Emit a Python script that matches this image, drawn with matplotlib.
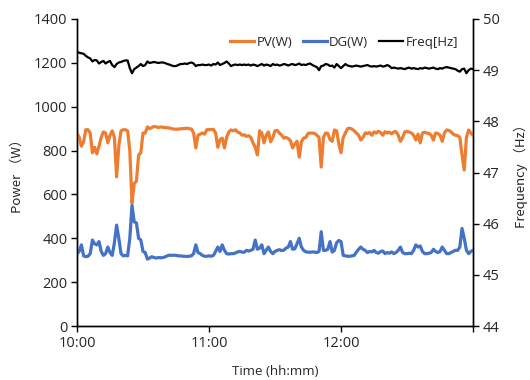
import matplotlib
matplotlib.use("Agg")
import matplotlib.pyplot as plt

# Minutes after 10:00, one sample per minute
minutes = list(range(181))

pv_w = [
    880, 860, 820, 840, 895, 895, 880, 790, 815, 785,
    820, 860, 885, 880, 835, 870, 890, 860, 680, 820,
    890, 895, 895, 890, 800, 560, 650, 660, 780, 790,
    880, 880, 908, 900, 905, 910, 908, 905, 908, 906,
    905, 904, 903, 900, 898, 897, 898, 899, 900, 901,
    902, 900, 898, 880, 812, 870, 875, 880, 875, 895,
    896, 895, 897, 880, 815, 850, 857, 812, 860, 885,
    894, 890, 895, 885, 880, 870, 872, 865, 868, 860,
    835, 815, 780, 890, 880, 835, 870, 885, 840, 860,
    890, 892, 880, 870, 857, 860, 855, 845, 812, 830,
    842, 770, 840, 857, 860, 878, 880, 880, 878, 870,
    860, 725, 860, 880, 878, 850, 842, 894, 890, 830,
    790, 860, 880, 900, 902, 898, 890, 880, 870, 848,
    860, 880, 878, 882, 870, 885, 880, 888, 882, 870,
    886, 880, 884, 876, 885, 886, 870, 842, 860, 885,
    888, 884, 880, 870, 848, 875, 835, 880, 884, 880,
    878, 870, 848, 880, 878, 870, 842, 880, 894, 892,
    885, 875, 870, 868, 860, 780, 711, 860, 894, 880,
    870,
]

dg_w = [
    330, 340, 370, 320, 316, 318, 330, 392, 375, 370,
    385, 340, 322, 330, 360, 335, 322, 380, 460, 400,
    330, 320, 322, 320, 400, 550, 475, 470, 400, 392,
    340, 335, 305, 310, 316, 312, 310, 312, 311, 312,
    315, 320, 323, 322, 323, 322, 320, 320, 318, 318,
    317, 318, 320, 330, 370, 335, 330, 322, 318, 318,
    320, 318, 322, 340, 360, 340, 370, 345, 330, 328,
    330, 330, 333, 338, 340, 337, 336, 345, 342, 345,
    350, 392, 350, 355, 370, 330, 345, 360, 340, 330,
    340, 345, 348, 344, 346, 355, 360, 385, 350, 352,
    375, 400, 360, 345, 338, 337, 336, 338, 337, 335,
    340, 430, 345, 345, 350, 385, 337, 345, 380, 390,
    385, 322, 320, 318, 318, 320, 322, 337, 350, 360,
    350, 345, 335, 340, 338, 345, 335, 332, 340, 342,
    330, 335, 332, 338, 330, 335, 345, 360, 335, 330,
    330, 332, 330, 345, 370, 360, 365, 340, 330, 330,
    332, 335, 350, 340, 335, 340, 360, 345, 330, 330,
    335, 340, 345, 345, 360, 445, 400, 345, 330, 340,
    345,
]

freq_hz = [
    49.36, 49.34, 49.33, 49.32, 49.28, 49.25, 49.23, 49.17, 49.20, 49.19,
    49.13, 49.16, 49.18, 49.13, 49.16, 49.18, 49.10, 49.06, 49.12, 49.15,
    49.16, 49.18, 49.19, 49.19, 49.04, 48.94, 49.02, 49.05, 49.08, 49.12,
    49.08, 49.10, 49.17, 49.14, 49.15, 49.16, 49.15, 49.14, 49.15, 49.15,
    49.14, 49.12, 49.11, 49.09, 49.08, 49.08, 49.10, 49.12, 49.12, 49.13,
    49.12, 49.14, 49.15, 49.13, 49.08, 49.10, 49.10, 49.11, 49.10, 49.10,
    49.11, 49.09, 49.12, 49.11, 49.15, 49.10, 49.12, 49.14, 49.17, 49.13,
    49.08, 49.10, 49.11, 49.10, 49.11, 49.10, 49.11, 49.10, 49.11, 49.09,
    49.11, 49.10, 49.08, 49.10, 49.12, 49.09, 49.11, 49.10, 49.08, 49.12,
    49.10, 49.11, 49.09, 49.10, 49.12, 49.11, 49.09, 49.11, 49.12, 49.10,
    49.11, 49.13, 49.10, 49.11, 49.10, 49.12, 49.13, 49.10, 49.08, 49.06,
    49.00, 49.08, 49.09, 49.12, 49.11, 49.08, 49.09, 49.05, 49.12, 49.08,
    49.04, 49.08, 49.12, 49.09, 49.08, 49.07, 49.08, 49.09, 49.08, 49.07,
    49.08, 49.09, 49.10, 49.08, 49.07, 49.08, 49.07, 49.08, 49.09, 49.07,
    49.08, 49.10, 49.08, 49.04, 49.05, 49.04, 49.03, 49.04, 49.03, 49.02,
    49.04, 49.05, 49.03, 49.04, 49.03, 49.02, 49.04, 49.03, 49.05, 49.04,
    49.03, 49.04, 49.05, 49.03, 49.02, 49.04, 49.03, 49.05, 49.06, 49.05,
    49.04, 49.03, 49.02, 48.99, 48.97, 49.02, 49.03, 48.94, 49.00, 49.03,
    49.02,
]

time_ticks = [0, 60, 120, 180]
time_labels = ["10:00", "11:00", "12:00", ""]
power_ticks = [0, 200, 400, 600, 800, 1000, 1200, 1400]
freq_ticks = [44, 45, 46, 47, 48, 49, 50]

PV_COLOR = "#ED7D31"
DG_COLOR = "#4472C4"
TEXT_COLOR = "#262626"

plt.rcParams["font.family"] = ["Open Sans", "DejaVu Sans"]

fig = plt.figure(figsize=(5.3, 3.8), dpi=100)
ax = fig.add_axes([0.1453, 0.1421, 0.7472, 0.8079])
ax2 = ax.twinx()

l_pv, = ax.plot(minutes, pv_w, color=PV_COLOR, lw=2.3, label="PV(W)",
                solid_joinstyle="round", zorder=3)
l_dg, = ax.plot(minutes, dg_w, color=DG_COLOR, lw=2.3, label="DG(W)",
                solid_joinstyle="round", zorder=3)
l_f, = ax2.plot(minutes, freq_hz, color="black", lw=1.6, label="Freq[Hz]",
                solid_joinstyle="round")

ax.set_xlim(0, 180)
ax.set_ylim(0, 1400)
ax2.set_ylim(44, 50)

ax.set_xticks(time_ticks)
ax.set_xticklabels(time_labels)
ax.set_yticks(power_ticks)
ax2.set_yticks(freq_ticks)

for a in (ax, ax2):
    a.spines["top"].set_visible(False)
    for s in a.spines.values():
        s.set_color("black")
        s.set_linewidth(1.0)
    a.tick_params(direction="out", length=4, width=1.0, colors="black",
                  labelcolor=TEXT_COLOR, labelsize=10.5, pad=3)

ax.set_xlabel("Time (hh:mm)", fontsize=9.5, color=TEXT_COLOR, labelpad=10)
ax.set_ylabel("Power （W）", fontsize=9.5, color=TEXT_COLOR, labelpad=7,
              family=["Noto Sans CJK SC", "DejaVu Sans"])
ax2.set_ylabel("Frequency （Hz）", fontsize=9.5, color=TEXT_COLOR, labelpad=10,
               rotation=90, family=["Noto Sans CJK SC", "DejaVu Sans"])

fig.legend(handles=[l_pv, l_dg, l_f], loc="center",
           bbox_to_anchor=(0.649, 0.889), ncol=3, frameon=False,
           fontsize=9.5, handlelength=1.8, handletextpad=0.2,
           columnspacing=0.8, labelcolor=TEXT_COLOR)

fig.savefig("out.png", dpi=100)
